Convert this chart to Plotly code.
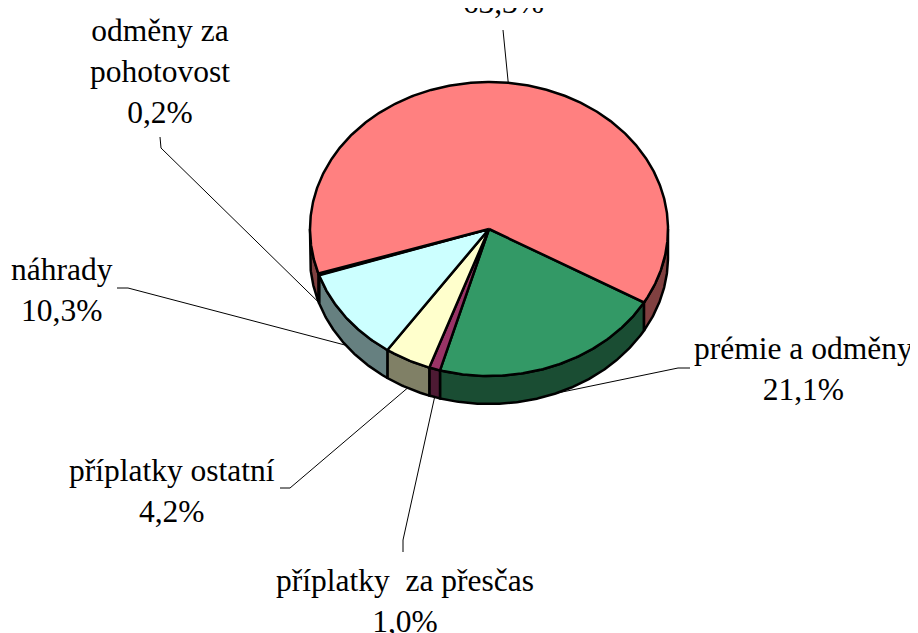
import numpy as np
import plotly.graph_objects as go

# ---------------- data ----------------
categories = ["prémie a odměny", "příplatky  za přesčas", "příplatky ostatní",
              "náhrady", "odměny za<br>pohotovost", "základní mzda"]
values = [21.1, 1.0, 4.2, 10.3, 0.2, 63.3]
top_colors = ["#339966", "#993366", "#FFFFCC", "#CCFFFF", "#660066", "#FF8080"]
side_colors = ["#1A4D33", "#4D1A33", "#808066", "#668080", "#330033", "#804040"]

# ---------------- layout constants (page pixels) ----------------
W, H = 918, 633
OFF = 8  # default page body margin
CX, CY, RX, RY, DEPTH = 489, 229, 179, 147, 28
START = 30.0  # degrees, clockwise from 3 o'clock (screen)
label_pos = [(803, 369), (405, 601), (172, 491), (62, 290), (160, 72), (503, -18)]
stubs = [((690, 368), (678, 368)), ((403, 552), (403, 540)), ((280, 488), (290, 488)),
         ((117, 288), (128, 288)), ((160, 137), (161, 148)), ((503, 30), (503, 30))]
FONT = dict(family="Liberation Serif", size=31.5, color="black")

total = sum(values)
spans = [v / total * 360.0 for v in values]
starts = [START + sum(spans[:i]) for i in range(len(spans))]
ends = [s + sp for s, sp in zip(starts, spans)]


def pt(a_deg, dy=0.0):
    a = np.radians(a_deg)
    return CX + RX * np.cos(a), CY + RY * np.sin(a) + dy


fig = go.Figure()

# side walls (front half only)
for a0, a1, col in zip(starts, ends, side_colors):
    for off in (0.0, 360.0):
        lo, hi = max(a0, off), min(a1, off + 180.0)
        if hi - lo <= 0:
            continue
        ang = np.linspace(lo, hi, max(4, int((hi - lo) * 2)))
        xt, yt = pt(ang)
        xb, yb = pt(ang[::-1], DEPTH)
        xs = np.concatenate([xt, xb, xt[:1]])
        ys = np.concatenate([yt, yb, yt[:1]])
        fig.add_trace(go.Scatter(x=xs, y=ys, mode="lines", fill="toself",
                                 fillcolor=col, line=dict(color="black", width=2.5),
                                 hoverinfo="skip", showlegend=False))

# top faces
for a0, a1, col in zip(starts, ends, top_colors):
    ang = np.linspace(a0, a1, max(4, int((a1 - a0) * 2)))
    xa, ya = pt(ang)
    xs = np.concatenate([[CX], xa, [CX]])
    ys = np.concatenate([[CY], ya, [CY]])
    fig.add_trace(go.Scatter(x=xs, y=ys, mode="lines", fill="toself",
                             fillcolor=col, line=dict(color="black", width=2.5),
                             hoverinfo="skip", showlegend=False))

# leader lines
lx, ly = [], []
for a0, a1, (s0, s1) in zip(starts, ends, stubs):
    mid = (a0 + a1) / 2.0
    front = np.sin(np.radians(mid)) > 0
    ex, ey = pt(mid, DEPTH if front else 0.0)
    lx += [s0[0], s1[0], ex, None]
    ly += [s0[1], s1[1], ey, None]
fig.add_trace(go.Scatter(x=lx, y=ly, mode="lines", line=dict(color="black", width=1),
                         hoverinfo="skip", showlegend=False))

# labels
for name, v, (px, py) in zip(categories, values, label_pos):
    txt = f"{name}<br>{v:.1f}%".replace(".", ",")
    fig.add_annotation(x=(px - OFF) / W, y=1 - (py - OFF) / H, xref="paper", yref="paper",
                       text=txt, showarrow=False, xanchor="center", yanchor="middle",
                       font=FONT, align="center")

fig.update_layout(width=W, height=H, autosize=False,
                  margin=dict(l=0, r=0, t=0, b=0),
                  paper_bgcolor="white", plot_bgcolor="white",
                  xaxis=dict(range=[OFF, W + OFF], visible=False, fixedrange=True),
                  yaxis=dict(range=[H + OFF, OFF], visible=False, fixedrange=True))

fig.write_html("out.html")
